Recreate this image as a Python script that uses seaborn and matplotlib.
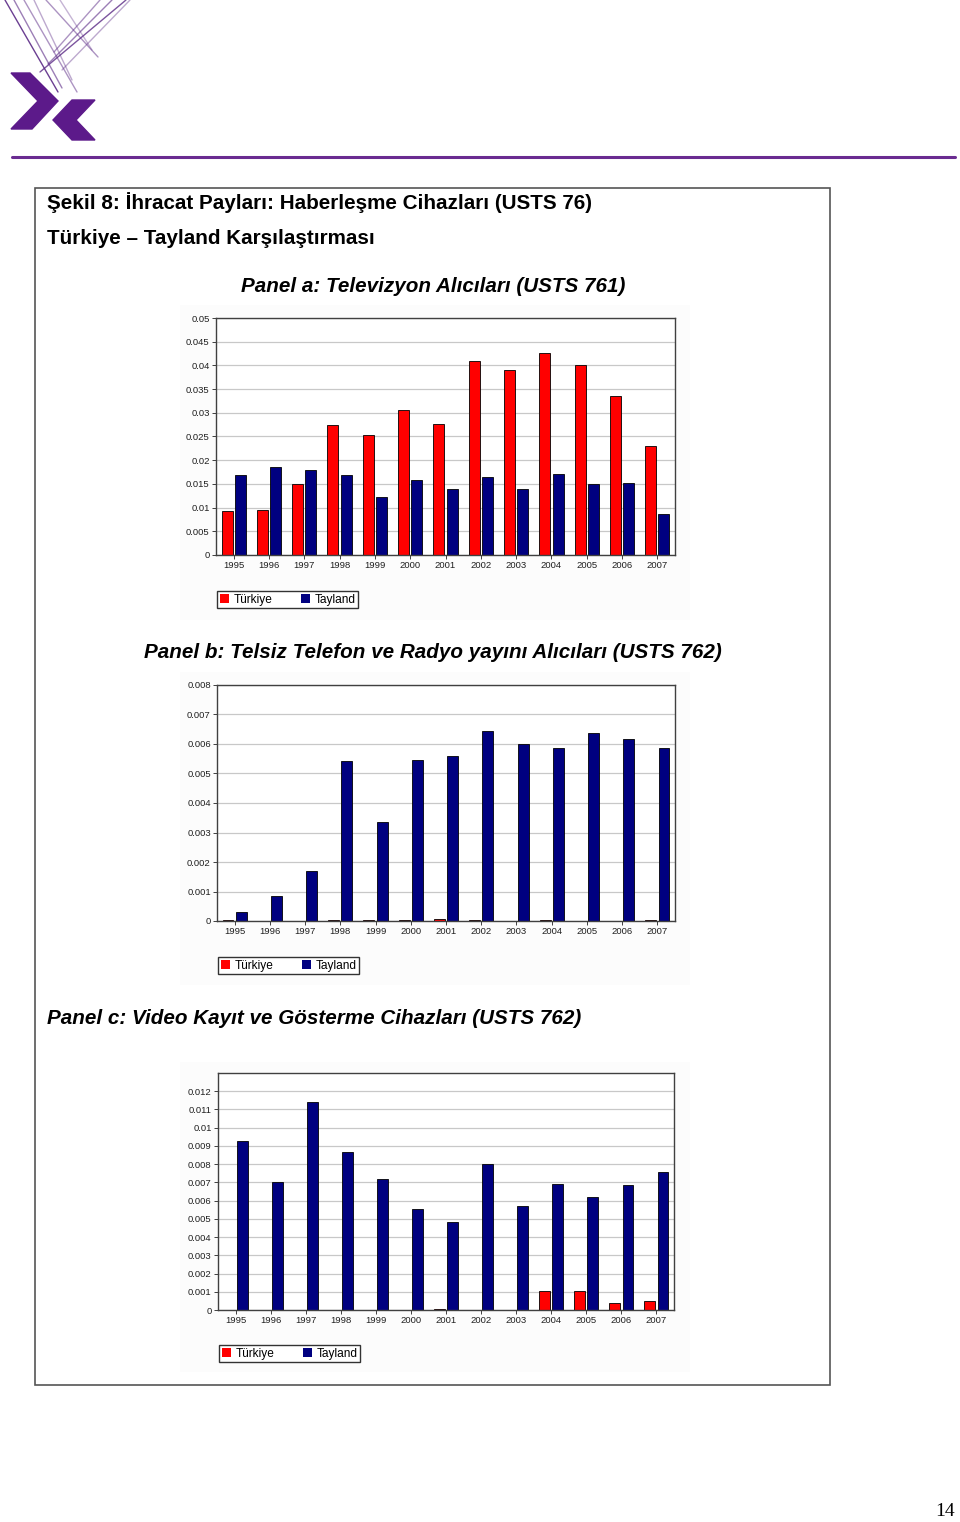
import numpy as np
import pandas as pd
import seaborn as sns
import matplotlib.pyplot as plt
from matplotlib.patches import Rectangle, Polygon, Patch
from matplotlib.lines import Line2D
from matplotlib.ticker import FuncFormatter, MultipleLocator

sns.set_style('white')
plt.rcParams['font.family'] = ['Liberation Sans', 'DejaVu Sans']
plt.rcParams['text.color'] = 'black'

# data
years = ['1995', '1996', '1997', '1998', '1999', '2000', '2001',
         '2002', '2003', '2004', '2005', '2006', '2007']
countries = ['Türkiye', 'Tayland']

tv_tr = [0.0092, 0.0094, 0.0150, 0.0275, 0.0253, 0.0305, 0.0277,
         0.0410, 0.0390, 0.0427, 0.0400, 0.0336, 0.0231]
tv_th = [0.0168, 0.0185, 0.0179, 0.0168, 0.0123, 0.0159, 0.0140,
         0.0164, 0.0140, 0.0170, 0.0150, 0.0152, 0.0087]

radio_tr = [0.00002, 0.0, 0.0, 0.00002, 0.00002, 0.00002, 0.00006,
            0.00002, 0.0, 0.00002, 0.0, 0.0, 0.00002]
radio_th = [0.00030, 0.00086, 0.00168, 0.00543, 0.00334, 0.00547, 0.00559,
            0.00645, 0.00600, 0.00588, 0.00636, 0.00617, 0.00587]

video_tr = [0.0, 0.00002, 0.00002, 0.0, 0.00002, 0.00002, 0.00006,
            0.00002, 0.00002, 0.00105, 0.00105, 0.00040, 0.00048]
video_th = [0.00926, 0.00704, 0.01143, 0.00864, 0.00719, 0.00553, 0.00485,
            0.00799, 0.00573, 0.00693, 0.00621, 0.00684, 0.00755]

palette = {'Türkiye': '#ff0000', 'Tayland': '#000080'}

W, H = 960, 1522
fig = plt.figure(figsize=(W / 100, H / 100), dpi=100)


def fx(x):
    return x / W


def fy(y):
    return 1 - y / H


def long_df(tr, th):
    return pd.DataFrame({
        'year': years * 2,
        'country': ['Türkiye'] * len(years) + ['Tayland'] * len(years),
        'value': list(tr) + list(th),
    })


#==================================
# page decoration (logo, rule, frame)
#==================================
purple = '#5b2a86'
for x0, y0, x1, y1, a in [(5, 0, 58, 92, 0.9), (14, 0, 62, 88, 0.6), (24, 0, 77, 92, 0.5),
                          (34, 0, 72, 80, 0.4), (46, 0, 98, 57, 0.5), (126, 0, 40, 72, 0.8),
                          (112, 0, 48, 64, 0.6), (100, 0, 54, 52, 0.5), (130, 0, 62, 70, 0.4),
                          (60, 0, 92, 50, 0.35)]:
    fig.add_artist(Line2D([fx(x0), fx(x1)], [fy(y0), fy(y1)], color=purple, lw=1.0, alpha=a))
fig.add_artist(Polygon([(fx(11), fy(73)), (fx(30), fy(73)), (fx(58), fy(101)), (fx(32), fy(129)),
                        (fx(11), fy(129)), (fx(38), fy(101))], closed=True, color='#5c1a8a'))
fig.add_artist(Polygon([(fx(72), fy(100)), (fx(95), fy(100)), (fx(76), fy(120)), (fx(95), fy(140)),
                        (fx(72), fy(140)), (fx(53), fy(120))], closed=True, color='#5c1a8a'))
fig.add_artist(Line2D([fx(12), fx(955)], [fy(157), fy(157)], color='#6a2c91', lw=2.2))

fig.add_artist(Rectangle((fx(35), fy(1385)), fx(830) - fx(35), fy(188) - fy(1385),
                         fill=False, edgecolor='#555555', lw=1.2))

# faint chart backgrounds
for top, bot in [(305, 620), (672, 985), (1062, 1372)]:
    fig.add_artist(Rectangle((fx(180), fy(bot)), fx(690) - fx(180), fy(top) - fy(bot),
                             facecolor='#fcfcfc', edgecolor='none', zorder=0))

# titles
fig.text(fx(47), fy(203), 'Şekil 8: İhracat Payları: Haberleşme Cihazları (USTS 76)',
         fontsize=14.9, fontweight='bold', va='center', ha='left')
fig.text(fx(47), fy(238), 'Türkiye – Tayland Karşılaştırması',
         fontsize=14.9, fontweight='bold', va='center', ha='left')
fig.text(fx(433), fy(286), 'Panel a: Televizyon Alıcıları (USTS 761)',
         fontsize=14.9, fontweight='bold', style='italic', va='center', ha='center')
fig.text(fx(433), fy(652), 'Panel b: Telsiz Telefon ve Radyo yayını Alıcıları (USTS 762)',
         fontsize=14.9, fontweight='bold', style='italic', va='center', ha='center')
fig.text(fx(47), fy(1018), 'Panel c: Video Kayıt ve Gösterme Cihazları (USTS 762)',
         fontsize=14.9, fontweight='bold', style='italic', va='center', ha='left')
fig.text(fx(945), fy(1512), '14', fontsize=14, family=['Liberation Serif', 'DejaVu Serif'],
         va='center', ha='center')


#==================================
# bar panels
#==================================
def panel(box, tr, th, ymax, step, legend_y):
    l, t, r, b = box
    ax = fig.add_axes([fx(l), fy(b), fx(r) - fx(l), fy(t) - fy(b)])
    sns.barplot(data=long_df(tr, th), x='year', y='value', hue='country',
                hue_order=countries, palette=palette, width=0.75, gap=0.17,
                edgecolor='black', linewidth=0.6, saturation=1, legend=False, ax=ax)
    ax.set_facecolor('white')
    ax.set_ylim(0, ymax)
    ax.yaxis.set_major_locator(MultipleLocator(step))
    ax.yaxis.set_major_formatter(FuncFormatter(lambda v, p: f'{round(v, 6):g}'))
    ax.grid(axis='y', color='#c8c8c8', lw=0.9)
    ax.set_axisbelow(True)
    ax.set_xlabel('')
    ax.set_ylabel('')
    for s in ax.spines.values():
        s.set_color('#404040')
        s.set_linewidth(1.0)
    ax.tick_params(axis='both', labelsize=6.8, length=3, width=0.7, color='#404040',
                   pad=1.5, left=True, bottom=True, labelcolor='#202020')
    handles = [Patch(facecolor=palette[c], edgecolor='none', label=c) for c in countries]
    ax.legend(handles=handles, loc='upper left', ncol=2,
              bbox_to_anchor=(fx(l + 1), fy(legend_y)), bbox_transform=fig.transFigure,
              frameon=True, fancybox=False, edgecolor='#333333', framealpha=1,
              fontsize=8.6, borderpad=0.22, handlelength=0.8, handleheight=0.8,
              handletextpad=0.35, columnspacing=2.4, borderaxespad=0)
    return ax


panel((216, 318, 675, 555), tv_tr, tv_th, 0.05, 0.005, 591)
panel((217, 685, 675, 921), radio_tr, radio_th, 0.008, 0.001, 957)
ax_c = panel((218, 1073, 674, 1310), video_tr, video_th, 0.013, 0.001, 1345)
ax_c.set_yticks(np.arange(0, 0.0125, 0.001))

fig.savefig('out.png', dpi=100)
